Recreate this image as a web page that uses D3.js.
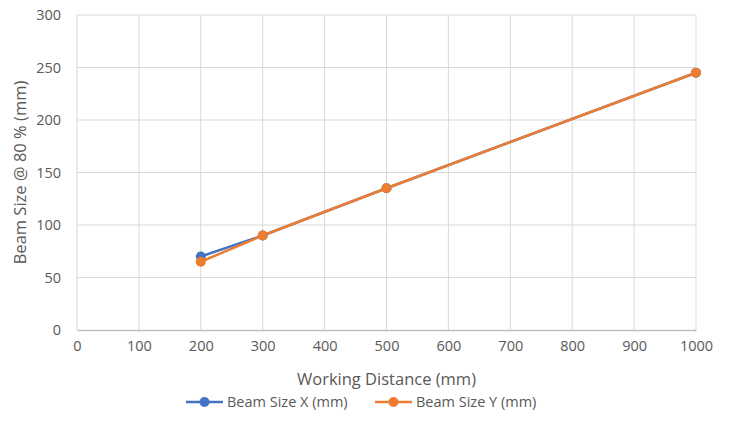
<!DOCTYPE html>
<html>
<head>
<meta charset="utf-8">
<script src="https://cdn.jsdelivr.net/npm/d3@7"></script>
<style>
  body { margin: 0; background: #fff; }
  text { font-family: "Open Sans", "Liberation Sans", sans-serif; fill: #595959; }
</style>
</head>
<body>
<div id="chart"></div>
<script>
// Chart data
const distances = [200, 300, 500, 1000];
const beamX = [70, 90, 135, 245];
const beamY = [65, 90, 135, 245];
const xTicks = [0, 100, 200, 300, 400, 500, 600, 700, 800, 900, 1000];
const yTicks = [0, 50, 100, 150, 200, 250, 300];
const seriesNames = ['Beam Size X (mm)', 'Beam Size Y (mm)'];
const seriesColors = ['#4472C4', '#ED7D31'];

const width = 731, height = 437;
const margin = { top: 15, right: 35, bottom: 107, left: 77 };

const svg = d3.select('#chart').append('svg')
  .attr('width', width)
  .attr('height', height);

const x = d3.scaleLinear().domain([0, 1000]).range([margin.left, width - margin.right]);
const y = d3.scaleLinear().domain([0, 300]).range([height - margin.bottom, margin.top]);

// Gridlines
svg.append('g').selectAll('line.h')
  .data(yTicks.filter(d => d > 0))
  .join('line')
    .attr('x1', x(0)).attr('x2', x(1000))
    .attr('y1', d => y(d)).attr('y2', d => y(d))
    .attr('stroke', '#d9d9d9').attr('stroke-width', 1);

svg.append('g').selectAll('line.v')
  .data(xTicks)
  .join('line')
    .attr('x1', d => x(d)).attr('x2', d => x(d))
    .attr('y1', y(0)).attr('y2', y(300))
    .attr('stroke', '#d9d9d9').attr('stroke-width', 1);

// X axis
const xAxis = svg.append('g')
  .attr('transform', `translate(0,${y(0)})`)
  .call(d3.axisBottom(x).tickValues(xTicks).tickFormat(d3.format('d')).tickSize(0).tickPadding(11));
xAxis.select('.domain').attr('stroke', '#bfbfbf').attr('stroke-width', 1.5);
xAxis.selectAll('text').attr('font-size', 14.5).style('fill', '#595959');

// Y axis
const yAxis = svg.append('g')
  .attr('transform', `translate(${x(0)},0)`)
  .call(d3.axisLeft(y).tickValues(yTicks).tickSize(0).tickPadding(16));
yAxis.select('.domain').remove();
yAxis.selectAll('text').attr('font-size', 14.5).style('fill', '#595959');

// Axis titles
svg.append('text')
  .attr('x', (x(0) + x(1000)) / 2)
  .attr('y', 385)
  .attr('text-anchor', 'middle')
  .attr('font-size', 16.5)
  .text('Working Distance (mm)');

svg.append('text')
  .attr('transform', `translate(26,${(y(0) + y(300)) / 2}) rotate(-90)`)
  .attr('text-anchor', 'middle')
  .attr('font-size', 16.5)
  .text('Beam Size @ 80 % (mm)');

// Series
const line = d3.line().x(d => x(d[0])).y(d => y(d[1]));
[beamX, beamY].forEach((vals, i) => {
  const pts = distances.map((d, j) => [d, vals[j]]);
  const g = svg.append('g');
  g.append('path')
    .datum(pts)
    .attr('d', line)
    .attr('fill', 'none')
    .attr('stroke', seriesColors[i])
    .attr('stroke-width', 2.5)
    .attr('stroke-linejoin', 'round');
  g.selectAll('circle')
    .data(pts)
    .join('circle')
      .attr('cx', d => x(d[0]))
      .attr('cy', d => y(d[1]))
      .attr('r', 5)
      .attr('fill', seriesColors[i]);
});

// Legend
const legendX = [186, 375];
seriesNames.forEach((name, i) => {
  const g = svg.append('g').attr('transform', `translate(${legendX[i]},402)`);
  g.append('line')
    .attr('x1', 0).attr('x2', 37)
    .attr('stroke', seriesColors[i]).attr('stroke-width', 2.5);
  g.append('circle')
    .attr('cx', 18.5).attr('r', 5)
    .attr('fill', seriesColors[i]);
  g.append('text')
    .attr('x', 41).attr('dy', '0.35em')
    .attr('font-size', 14.5)
    .text(name);
});
</script>
</body>
</html>
